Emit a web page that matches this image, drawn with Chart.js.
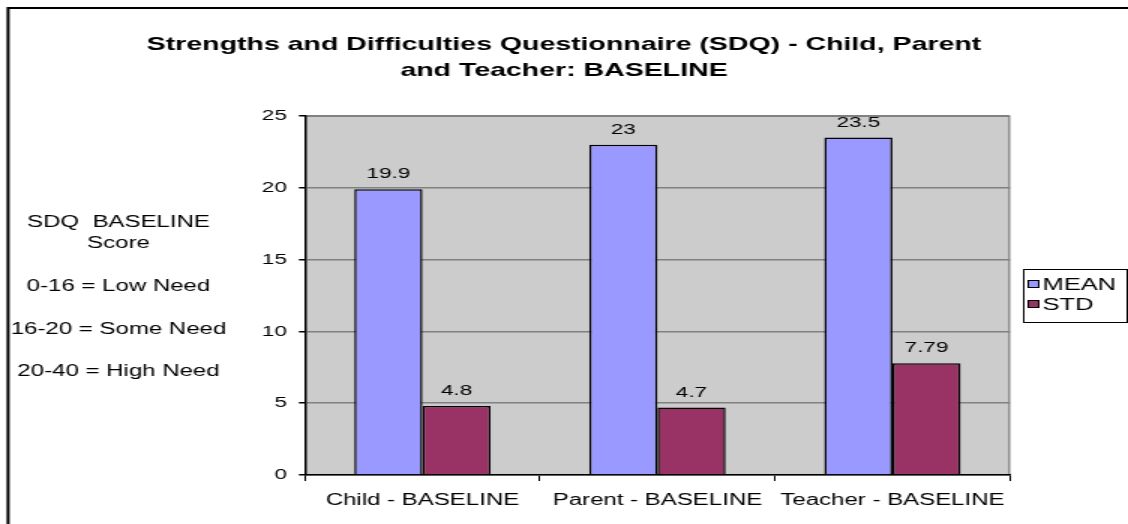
<!DOCTYPE html>
<html>
<head>
<meta charset="utf-8">
<script src="https://cdn.jsdelivr.net/npm/chart.js@4.4.1/dist/chart.umd.min.js"></script>
<style>
  html, body { margin: 0; padding: 0; background: #ffffff; overflow: hidden; }
  /* the chart is drawn on a narrower canvas and stretched wide, like a resized spreadsheet chart */
  #wrap { width: 752px; height: 524px; transform: scaleX(1.5); transform-origin: 0 0; }
</style>
</head>
<body>
<div id="wrap"><canvas id="sdq" width="752" height="524"></canvas></div>
<script>
// SDQ baseline results by respondent
const categories = ['Child - BASELINE', 'Parent - BASELINE', 'Teacher - BASELINE'];
const meanValues = [19.9, 23, 23.5];
const stdValues = [4.8, 4.7, 7.79];
const meanLabels = ['19.9', '23', '23.5'];
const stdLabels = ['4.8', '4.7', '7.79'];
const yTicks = [0, 5, 10, 15, 20, 25];
const titleLines = ['Strengths and Difficulties Questionnaire (SDQ) - Child, Parent', 'and Teacher: BASELINE'];
const scoreKey = ['SDQ  BASELINE', 'Score', '0-16 = Low Need', '16-20 = Some Need', '20-40 = High Need'];

const FONT = '"Liberation Sans", Arial, sans-serif';

// Grey plot background, outer frame, title and score key
const decorPlugin = {
  id: 'decor',
  beforeDraw(chart) {
    const { ctx, chartArea: a } = chart;
    ctx.save();
    ctx.fillStyle = '#ffffff';
    ctx.fillRect(0, 0, chart.width, chart.height);
    ctx.fillStyle = '#cccccc';
    ctx.fillRect(a.left, a.top, a.right - a.left, a.bottom - a.top);
    // plot area outline (top and right)
    ctx.strokeStyle = '#808080';
    ctx.lineWidth = 1.2;
    ctx.beginPath();
    ctx.moveTo(a.left, a.top + 0.5);
    ctx.lineTo(a.right - 0.5, a.top + 0.5);
    ctx.lineTo(a.right - 0.5, a.bottom);
    ctx.stroke();
    // outer frame
    ctx.strokeStyle = '#000000';
    ctx.lineWidth = 2;
    ctx.beginPath();
    ctx.moveTo(5.4, chart.height + 2);
    ctx.lineTo(5.4, 8);
    ctx.lineTo(chart.width + 2, 8);
    ctx.stroke();
    // title
    ctx.fillStyle = '#000000';
    ctx.textAlign = 'center';
    ctx.textBaseline = 'middle';
    ctx.font = 'bold 19px ' + FONT;
    ctx.fillText(titleLines[0], 376, 45);
    ctx.fillText(titleLines[1], 376, 71);
    // score key on the left
    ctx.font = '16px ' + FONT;
    const keyY = [223, 244, 287, 330, 372];
    scoreKey.forEach((t, i) => ctx.fillText(t, 79, keyY[i]));
    ctx.restore();
  },
  afterDraw(chart) {
    const { ctx } = chart;
    ctx.save();
    // value labels above bars
    ctx.font = '15px ' + FONT;
    ctx.fillStyle = '#000000';
    ctx.textAlign = 'center';
    ctx.textBaseline = 'middle';
    const texts = [meanLabels, stdLabels];
    chart.data.datasets.forEach((ds, di) => {
      chart.getDatasetMeta(di).data.forEach((bar, i) => {
        ctx.fillText(texts[di][i], bar.x, bar.y - 15);
      });
    });
    // legend
    const lx = 682, ly = 269, lw = 69, lh = 53;
    ctx.fillStyle = '#ffffff';
    ctx.fillRect(lx, ly, lw, lh);
    ctx.strokeStyle = '#000000';
    ctx.lineWidth = 1;
    ctx.strokeRect(lx + 0.5, ly + 0.5, lw, lh);
    ctx.textAlign = 'left';
    ctx.font = '17px ' + FONT;
    chart.data.datasets.forEach((ds, di) => {
      const cy = ly + 15 + di * 20;
      ctx.fillStyle = ds.backgroundColor;
      ctx.fillRect(lx + 3.5, cy - 3.5, 7, 7);
      ctx.lineWidth = 1;
      ctx.strokeRect(lx + 3.5, cy - 3.5, 7, 7);
      ctx.fillStyle = '#000000';
      ctx.fillText(ds.label, lx + 13, cy + 1);
    });
    ctx.restore();
  }
};

new Chart(document.getElementById('sdq'), {
  type: 'bar',
  data: {
    labels: categories,
    datasets: [
      { label: 'MEAN', data: meanValues, backgroundColor: '#9999ff', borderColor: '#000000', borderWidth: 1.5 },
      { label: 'STD', data: stdValues, backgroundColor: '#993366', borderColor: '#000000', borderWidth: 1.5 }
    ]
  },
  options: {
    responsive: false,
    animation: false,
    devicePixelRatio: 1,
    layout: { padding: { left: 0, top: 116, right: 78.7, bottom: 0 } },
    datasets: { bar: { categoryPercentage: 0.58, barPercentage: 1.0 } },
    plugins: { legend: { display: false }, title: { display: false }, tooltip: { enabled: false } },
    scales: {
      x: {
        afterFit(s) { s.height = 49; },
        grid: { offset: true, drawOnChartArea: false, tickLength: 6, color: '#000000', tickColor: '#000000' },
        border: { color: '#000000', width: 1.5 },
        ticks: { color: '#000000', font: { family: FONT, size: 16 }, padding: 10 }
      },
      y: {
        min: 0, max: 25,
        afterFit(s) { s.width = 203.3; },
        afterBuildTicks(s) { s.ticks = yTicks.map(v => ({ value: v })); },
        grid: { color: '#808080', lineWidth: 1.5, tickLength: 4, tickColor: '#000000' },
        border: { color: '#000000', width: 1.5 },
        ticks: { color: '#000000', font: { family: FONT, size: 15 }, padding: 8 }
      }
    }
  },
  plugins: [decorPlugin]
});
</script>
</body>
</html>
